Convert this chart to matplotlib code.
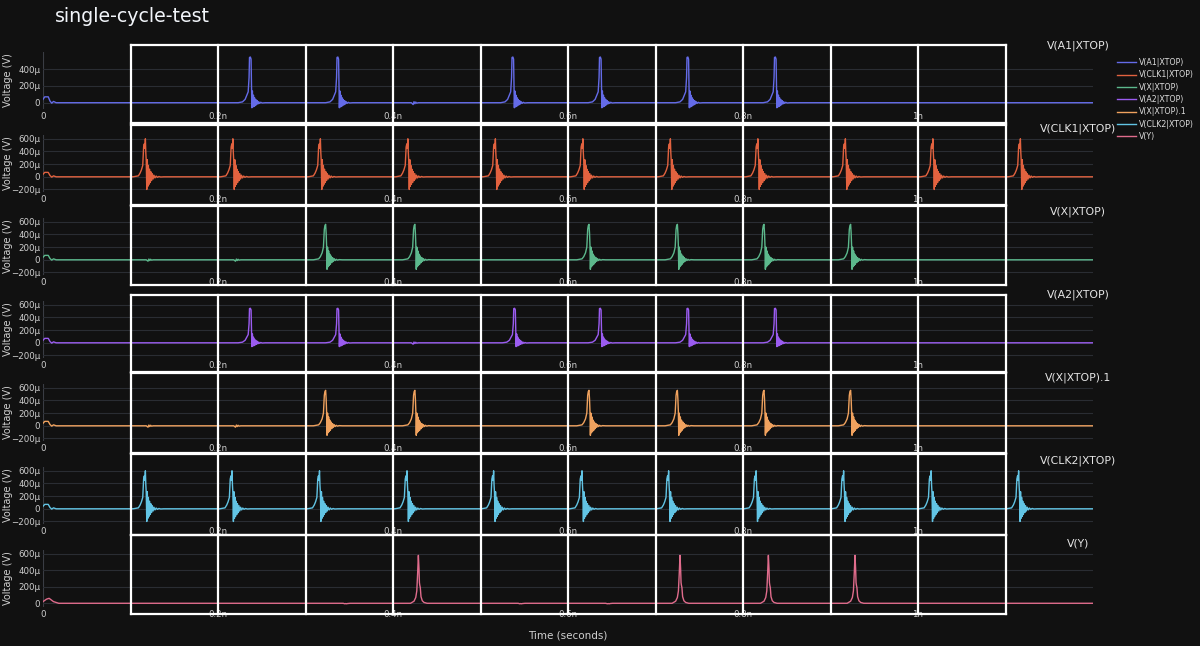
import matplotlib.pyplot as plt
import matplotlib.transforms as mtransforms
from matplotlib.lines import Line2D
from matplotlib.ticker import FuncFormatter
import numpy as np

# signal names (subplot titles / legend)
names = ["V(A1|XTOP)", "V(CLK1|XTOP)", "V(X|XTOP)", "V(A2|XTOP)",
         "V(X|XTOP).1", "V(CLK2|XTOP)", "V(Y)"]
colors = ["#646be8", "#e2623f", "#5cb88c", "#9b5cf0", "#f0a25e", "#62c4e4", "#e06c8c"]

# pulse peak times, ns
clk1_t = [0.117, 0.217, 0.317, 0.417, 0.517, 0.617, 0.717, 0.817, 0.917, 1.017, 1.117]
clk2_t = [0.117, 0.216, 0.316, 0.416, 0.515, 0.616, 0.715, 0.815, 0.915, 1.015, 1.115]
a1_t = [0.237, 0.337, 0.537, 0.637, 0.737, 0.837]
a2_t = [0.237, 0.337, 0.539, 0.637, 0.737, 0.837]
x_t = [0.323, 0.425, 0.624, 0.725, 0.824, 0.923]
y_t = [0.429, 0.728, 0.829, 0.928]
x_glitch_t = [0.120, 0.220]
a_glitch_t = [0.423]
y_glitch_t = [0.345, 0.545, 0.645]

# pulse shapes: (offset ns, value uV)
clk_off = [-0.014, -0.008, -0.006, -0.0045, -0.003, -0.002, -0.0012, -0.0006, 0, 0.0005, 0.001,
           0.0016, 0.0022, 0.0028, 0.0034, 0.004, 0.0047, 0.0054, 0.0062, 0.007, 0.0079,
           0.0088, 0.0098, 0.011, 0.0123, 0.0138, 0.0155, 0.0175, 0.021]
clk_val = [0, 15, 60, 110, 180, 470, 520, 450, 600, 380, 250,
           -200, 270, -150, 180, -120, 120, -90, 80, -60, 50,
           -35, 25, -18, 12, -8, 5, -3, 0]
data_off = [-0.014, -0.009, -0.006, -0.004, -0.0025, -0.0015, -0.001, 0, 0.0008, 0.0012, 0.0017,
            0.0023, 0.0029, 0.0035, 0.0041, 0.0047, 0.0054, 0.0061, 0.0069, 0.0077, 0.0086,
            0.0095, 0.0105, 0.0118, 0.0135, 0.017]
data_val = [0, 10, 40, 90, 130, 300, 540, 545, 520, 260, -60,
            140, -50, 90, -45, 60, -35, 40, -25, 25, -15,
            12, -8, 5, -3, 0]
x_off = [-0.014, -0.008, -0.006, -0.004, -0.0025, -0.0015, -0.0008, 0, 0.0006, 0.0011, 0.0016,
         0.0022, 0.0028, 0.0034, 0.004, 0.0047, 0.0054, 0.0062, 0.007, 0.0079, 0.0088,
         0.0098, 0.0109, 0.0121, 0.0135, 0.0155, 0.019]
x_val = [0, 15, 50, 110, 200, 480, 540, 560, 420, 230, -150,
         200, -110, 140, -90, 90, -70, 60, -45, 35, -25,
         18, -12, 8, -5, 3, 0]
y_off = [-0.009, -0.005, -0.003, -0.0018, -0.0009, 0, 0.0007, 0.0012, 0.0016, 0.0022, 0.003,
         0.0045, 0.0065, 0.01]
y_val = [0, 25, 70, 150, 350, 580, 420, 250, 220, 190, 80, 30, 10, 0]
glitch_off = [-0.002, 0, 0.001, 0.002, 0.003, 0.004, 0.006]
glitch_val = [0, -22, 12, -12, 8, -5, 0]
start_off = [0, 0.002, 0.006, 0.008, 0.010, 0.012, 0.015]
start_val = [40, 70, 70, 20, -5, 15, 0]
ystart_off = [0, 0.004, 0.007, 0.012, 0.018]
ystart_val = [20, 50, 60, 20, 0]

T_END = 1.2


def build(start, pulses):
    ts = list(start[0])
    vs = list(start[1])
    for times, off, val in pulses:
        for t0 in times:
            ts += [t0 + o for o in off]
            vs += list(val)
    ts.append(T_END)
    vs.append(0)
    order = np.argsort(ts)
    return np.array(ts)[order], np.array(vs)[order]


series = [
    build((start_off, start_val), [(a1_t, data_off, data_val), (a_glitch_t, glitch_off, glitch_val)]),
    build((start_off, start_val), [(clk1_t, clk_off, clk_val)]),
    build((start_off, start_val), [(x_t, x_off, x_val), (x_glitch_t, glitch_off, glitch_val)]),
    build((start_off, start_val), [(a2_t, data_off, data_val), (a_glitch_t, glitch_off, glitch_val)]),
    build((start_off, start_val), [(x_t, x_off, x_val), (x_glitch_t, glitch_off, glitch_val)]),
    build((start_off, start_val), [(clk2_t, clk_off, clk_val)]),
    build((ystart_off, ystart_val), [(y_t, y_off, y_val), (y_glitch_t, glitch_off, [0, -6, -3, -6, -3, -2, 0])]),
]
ylims = [(-75, 605), (-240, 660), (-240, 660), (-240, 660), (-240, 660), (-240, 660), (-45, 645)]
yticks = [[0, 200, 400], [-200, 0, 200, 400, 600], [-200, 0, 200, 400, 600], [-200, 0, 200, 400, 600],
          [-200, 0, 200, 400, 600], [-200, 0, 200, 400, 600], [0, 200, 400, 600]]
xticks = [0, 0.2, 0.4, 0.6, 0.8, 1.0]
cycle_edges = [0.1, 0.2, 0.3, 0.4, 0.5, 0.6, 0.7, 0.8, 0.9, 1.0, 1.1]
# white box extents per row (pixels from top)
box_rows = [(45, 123), (125, 205), (206, 285), (295, 372), (373, 453), (454, 535), (535, 614)]

BG = "#111111"
W, H = 1200, 646
LEFT, WIDTH = 43, 1050
fig = plt.figure(figsize=(12, 6.46), dpi=100, facecolor=BG)


def yfmt(v, pos):
    if abs(v) < 1e-9:
        return "0"
    return f"{int(v)}µ".replace("-", "\u2212")


def xfmt(v, pos):
    if abs(v) < 1e-9:
        return "0"
    return f"{v:g}n"


axes = []
handles = []
for i in range(7):
    top = 52 + 83 * i
    ax = fig.add_axes([LEFT / W, 1 - (top + 57) / H, WIDTH / W, 57 / H], facecolor=BG)
    t, v = series[i]
    ln, = ax.plot(t, v, color=colors[i], lw=1.0, label=names[i])
    handles.append(ln)
    ax.set_xlim(0, T_END)
    ax.set_ylim(*ylims[i])
    ax.set_yticks(yticks[i])
    ax.set_xticks(xticks)
    ax.yaxis.set_major_formatter(FuncFormatter(yfmt))
    ax.xaxis.set_major_formatter(FuncFormatter(xfmt))
    ax.tick_params(length=0, labelsize=6.2, colors="#d0d0d0", pad=2)
    ax.yaxis.grid(True, color="#2a2d33", lw=0.8)
    ax.axvline(0, color="#3a3d44", lw=0.8, zorder=0)
    for s in ax.spines.values():
        s.set_visible(False)
    ax.set_ylabel("Voltage (V)", fontsize=7, color="#d0d0d0")
    ax.yaxis.set_label_coords(-30 / WIDTH, 0.5)
    fig.text(1078 / W, 1 - (top - 6) / H, names[i], fontsize=7.8, color="#e6e6e6",
             ha="center", va="center")
    axes.append(ax)

# white cycle boxes
tr = mtransforms.blended_transform_factory(axes[0].transData, fig.transFigure)
for y0, y1 in box_rows:
    fy0, fy1 = 1 - y0 / H, 1 - y1 / H
    for e in (fy0, fy1):
        fig.add_artist(Line2D([cycle_edges[0], cycle_edges[-1]], [e, e], transform=tr,
                              color="white", lw=1.6, zorder=10))
    for c in cycle_edges:
        fig.add_artist(Line2D([c, c], [fy0, fy1], transform=tr, color="white", lw=1.6, zorder=10))

fig.text(55 / W, 1 - 16 / H, "single-cycle-test", fontsize=13.7, color="#f2f5fa", va="center")
fig.text((LEFT + WIDTH / 2) / W, 1 - 635 / H, "Time (seconds)", fontsize=7.5, color="#d0d0d0",
         ha="center", va="center")
fig.legend(handles, names, loc="upper left", bbox_to_anchor=(1117 / W, 1 - 58 / H),
           frameon=False, fontsize=5.7, labelcolor="#dddddd", handlelength=2.4,
           handletextpad=0.4, labelspacing=0.42, borderaxespad=0, borderpad=0)

fig.savefig("out.png", dpi=100, facecolor=BG)
